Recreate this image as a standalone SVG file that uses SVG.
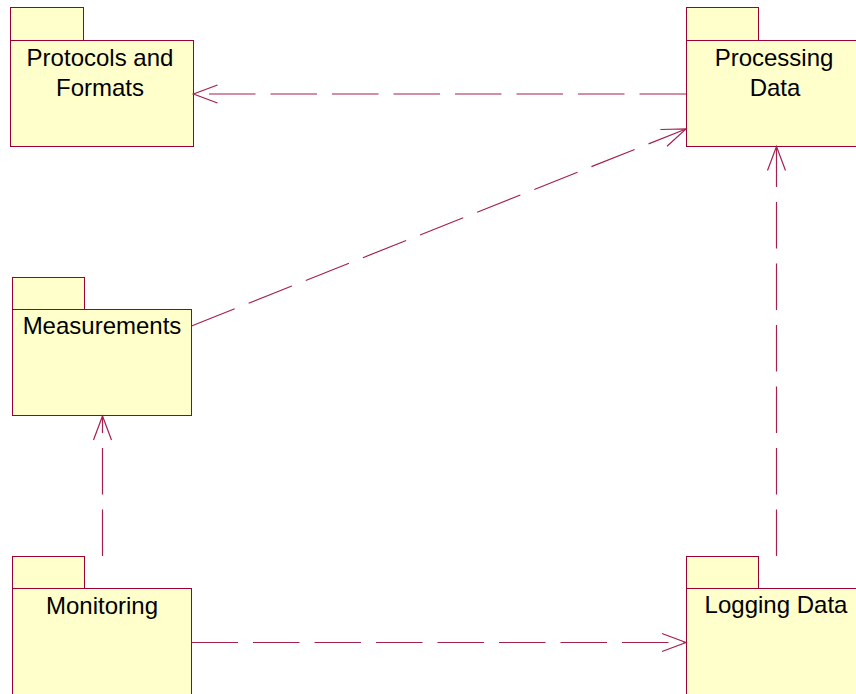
<svg xmlns="http://www.w3.org/2000/svg" width="856" height="694" viewBox="0 0 856 694">
  <style>
    .pkg rect { fill: #FFFFCC; stroke: #990033; stroke-width: 1; }
    .lbl { font-family: "Liberation Sans", Arial, sans-serif; font-size: 24px; fill: #000000; text-anchor: middle; }
    .dep { fill: none; stroke: #A3204F; stroke-width: 1.2; stroke-dasharray: 46.5 15; }
  </style>
  <defs>
    <marker id="open-arrow" markerUnits="userSpaceOnUse" markerWidth="30" markerHeight="24" viewBox="-26 -12 30 24" refX="0" refY="0" orient="auto" overflow="visible">
      <path d="M-24,-9 L0,0 L-24,9" fill="none" stroke="#A3204F" stroke-width="1.2"/>
    </marker>
  </defs>

  <rect width="856" height="694" fill="#FFFFFF"/>

  <!-- packages -->
  <g id="protocols-and-formats" class="pkg">
    <rect x="10.5" y="7.5" width="73" height="33"/>
    <rect x="10.5" y="40.5" width="183" height="106"/>
    <text class="lbl" x="100" y="66">Protocols and</text>
    <text class="lbl" x="100" y="96">Formats</text>
  </g>

  <g id="processing-data" class="pkg">
    <rect x="686.5" y="7.5" width="72" height="33"/>
    <rect x="686.5" y="40.5" width="190" height="106"/>
    <text class="lbl" x="774" y="66">Processing</text>
    <text class="lbl" x="775" y="96">Data</text>
  </g>

  <g id="measurements" class="pkg">
    <rect x="12.5" y="277.5" width="72" height="32"/>
    <rect x="12.5" y="309.5" width="179" height="106"/>
    <text class="lbl" x="102" y="334">Measurements</text>
  </g>

  <g id="monitoring" class="pkg">
    <rect x="12.5" y="556.5" width="72" height="32"/>
    <rect x="12.5" y="588.5" width="179" height="120"/>
    <text class="lbl" x="102" y="614">Monitoring</text>
  </g>

  <g id="logging-data" class="pkg">
    <rect x="686.5" y="556.5" width="72" height="32"/>
    <rect x="686.5" y="588.5" width="190" height="120"/>
    <text class="lbl" x="776" y="613">Logging Data</text>
  </g>

  <!-- dependencies -->
  <g id="connectors">
    <line class="dep" x1="686" y1="94" x2="193.5" y2="94" marker-end="url(#open-arrow)"/>
    <line class="dep" x1="191.5" y1="326" x2="686" y2="129" marker-end="url(#open-arrow)"/>
    <line class="dep" x1="102.5" y1="556" x2="102.5" y2="416" marker-end="url(#open-arrow)"/>
    <line class="dep" x1="776.5" y1="556" x2="776.5" y2="146.5" marker-end="url(#open-arrow)"/>
    <line class="dep" x1="191.5" y1="642.5" x2="686" y2="642.5" marker-end="url(#open-arrow)"/>
  </g>
</svg>
